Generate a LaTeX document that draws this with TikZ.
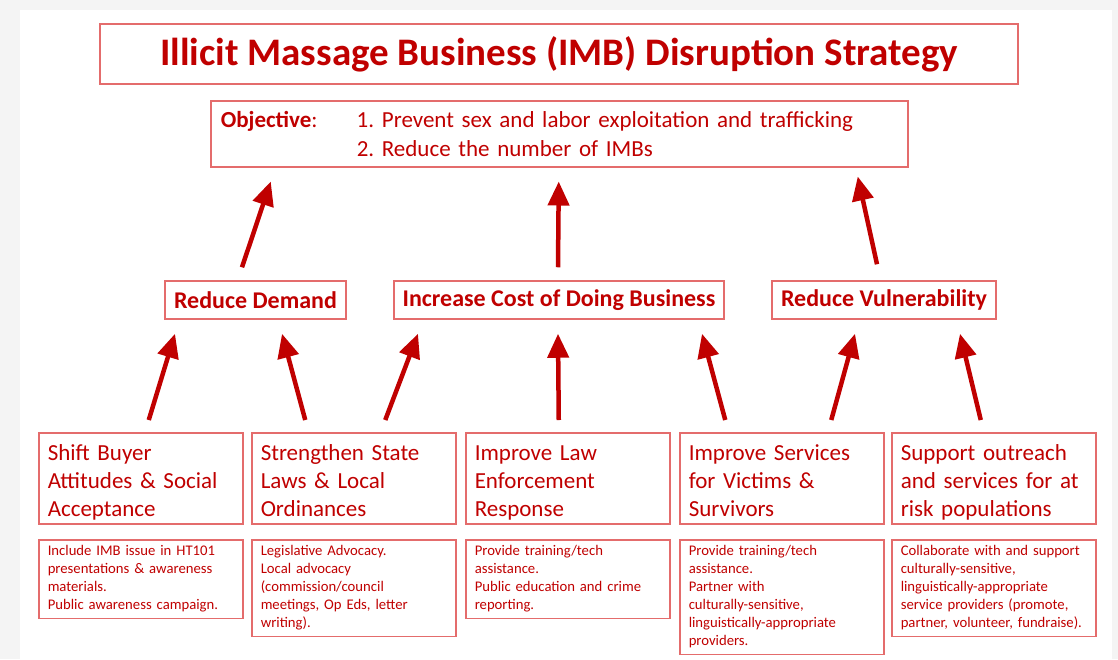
\documentclass[tikz,border=0pt]{standalone}
\usepackage{fontspec}
\setmainfont{Carlito}
\usepackage{tikz}
\usetikzlibrary{arrows.meta}
\definecolor{imbred}{RGB}{192,0,0}
\definecolor{boxred}{RGB}{228,108,108}
\definecolor{pagegray}{RGB}{244,244,244}
\frenchspacing
\newcommand{\topstrut}{\rule{0pt}{24pt}}
\newcommand{\botstrut}{\rule[-4pt]{0pt}{4pt}}

\begin{document}
\begin{tikzpicture}[
		x=1pt,y=-1pt,
		box/.style={draw=boxred,line width=1.5pt,text=imbred,inner sep=0pt},
		head/.style={box,font=\fontsize{24}{28}\selectfont\bfseries,minimum height=38pt},
		measure/.style={box,anchor=north west,align=left,text width=186pt,inner xsep=9pt,minimum height=91pt,font=\fontsize{23}{28}\selectfont,
			execute at begin node=\topstrut,execute at end node=\botstrut},
		action/.style={box,anchor=north west,align=left,text width=186pt,inner xsep=9pt,inner ysep=6pt,font=\fontsize{14.7}{18}\selectfont},
		link/.style={->,draw=imbred,line width=4.5pt},
		>={Triangle[length=24pt,width=21pt]}]
	%% page
	\useasboundingbox (0,0) rectangle (1118,659);
	\fill[pagegray] (0,0) rectangle (1118,659);
	\fill[white] (20,10) rectangle (1112,659);
	%% title and objective
	\node (title) at (559,54) [box,minimum width=918pt,minimum height=60pt,font=\fontsize{39}{45}\selectfont\bfseries] {Illicit Massage Business (IMB) Disruption Strategy};
	\node (obj) at (210,100) [box,anchor=north west,minimum width=697pt,minimum height=66pt,inner xsep=10pt,align=left,text width=677pt,font=\fontsize{23}{29}\selectfont] {\makebox[136pt][l]{\textbf{Objective}:}1. Prevent sex and labor exploitation and trafficking\\\hspace*{136pt}2. Reduce the number of IMBs};
	%% goals
	\node (demand) at (255.5,300) [head,minimum width=181pt] {Reduce Demand};
	\node (cost) at (559,300) [head,minimum width=330pt] {Increase Cost of Doing Business};
	\node (vuln) at (884,300) [head,minimum width=224pt] {Reduce Vulnerability};
	%% strategies
	\node (shift) at (38,432) [measure] {Shift Buyer\\Attitudes \& Social\\Acceptance};
	\node (laws) at (251,432) [measure] {Strengthen State\\Laws \& Local\\Ordinances};
	\node (police) at (465,432) [measure] {Improve Law\\Enforcement\\Response};
	\node (services) at (679,432) [measure] {Improve Services\\for Victims \&\\Survivors};
	\node (outreach) at (891,432) [measure] {Support outreach\\and services for at\\risk populations};
	%% actions
	\node (shiftact) at (38,539) [action] {Include IMB issue in HT101\\presentations \& awareness\\materials.\\Public awareness campaign.};
	\node (lawsact) at (251,539) [action] {Legislative Advocacy.\\Local advocacy\\(commission/council\\meetings, Op Eds, letter\\writing).};
	\node (policeact) at (465,539) [action] {Provide training/tech\\assistance.\\Public education and crime\\reporting.};
	\node (servicesact) at (679,539) [action] {Provide training/tech\\assistance.\\Partner with\\culturally-sensitive,\\linguistically-appropriate\\providers.};
	\node (outreachact) at (891,539) [action] {Collaborate with and support\\culturally-sensitive,\\linguistically-appropriate\\service providers (promote,\\partner, volunteer, fundraise).};
	%% arrows
	\draw[link] ([xshift=-13.5pt,yshift=13pt]demand.north) -- ([xshift=-288.5pt,yshift=-14pt]obj.south);
	\draw[link] ([xshift=-1pt,yshift=13pt]cost.north) -- ([xshift=-0.5pt,yshift=-14pt]obj.south);
	\draw[link] ([xshift=-7pt,yshift=16pt]vuln.north) -- ([xshift=298.5pt,yshift=-9pt]obj.south);
	\draw[link] ([xshift=8pt,yshift=12pt]shift.north) -- ([xshift=-80.5pt,yshift=-14pt]demand.south);
	\draw[link] ([xshift=-48.5pt,yshift=12pt]laws.north) -- ([xshift=26.5pt,yshift=-14pt]demand.south);
	\draw[link] ([xshift=31.5pt,yshift=12pt]laws.north) -- ([xshift=-141pt,yshift=-14pt]cost.south);
	\draw[link] ([xshift=-9pt,yshift=12pt]police.north) -- ([xshift=-1pt,yshift=-14pt]cost.south);
	\draw[link] ([xshift=-56.5pt,yshift=12pt]services.north) -- ([xshift=143pt,yshift=-14pt]cost.south);
	\draw[link] ([xshift=49.5pt,yshift=12pt]services.north) -- ([xshift=-29pt,yshift=-14pt]vuln.south);
	\draw[link] ([xshift=-13pt,yshift=12pt]outreach.north) -- ([xshift=76pt,yshift=-14pt]vuln.south);
\end{tikzpicture}
\end{document}
